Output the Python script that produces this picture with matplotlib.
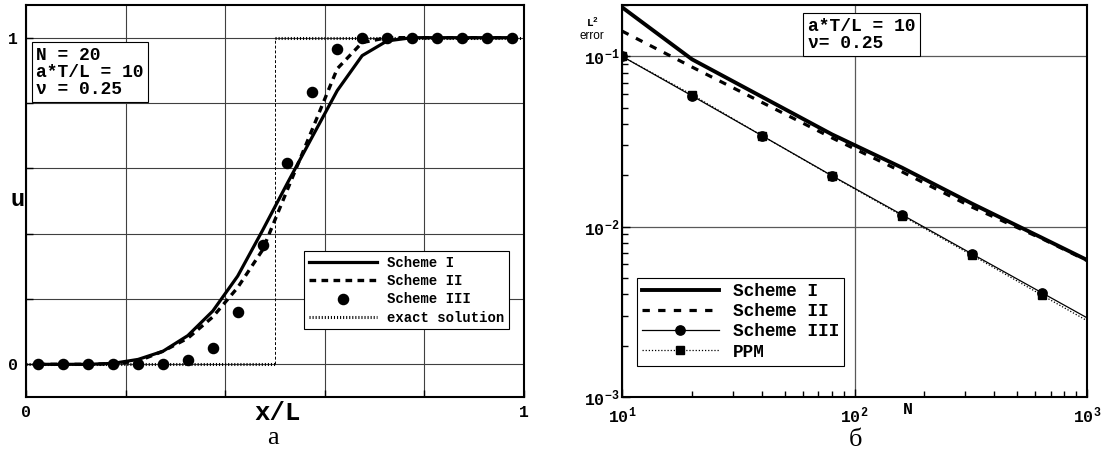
import matplotlib
matplotlib.use('Agg')
import matplotlib.pyplot as plt
from matplotlib.ticker import NullFormatter

plt.rcParams['font.family'] = ['Liberation Mono', 'DejaVu Sans']
plt.rcParams['font.weight'] = 'bold'
plt.rcParams['mathtext.fontset'] = 'custom'
plt.rcParams['mathtext.rm'] = 'Liberation Mono:bold'
plt.rcParams['mathtext.bf'] = 'Liberation Mono:bold'
plt.rcParams['mathtext.it'] = 'Liberation Mono:bold'
plt.rcParams['axes.linewidth'] = 1.5

# (a) profile after a*T/L = 10, N = 20 cells
x = [0.025, 0.075, 0.125, 0.175, 0.225, 0.275, 0.325, 0.375, 0.425, 0.475,
     0.525, 0.575, 0.625, 0.675, 0.725, 0.775, 0.825, 0.875, 0.925, 0.975]
u1 = [0, 0, 0, 0.003, 0.015, 0.04, 0.088, 0.163, 0.27, 0.41,
      0.555, 0.697, 0.838, 0.945, 0.99, 1, 1, 1, 1, 1]
u2 = [0, 0, 0, 0.002, 0.01, 0.04, 0.08, 0.145, 0.235, 0.35,
      0.535, 0.72, 0.905, 0.985, 1, 1, 1, 1, 1, 1]
u3 = [0, 0, 0, 0, 0, 0.002, 0.012, 0.049, 0.16, 0.366,
      0.616, 0.835, 0.966, 0.998, 1, 1, 1, 1, 1, 1]
x_exact = [0.0, 0.5, 0.5, 1.0]
u_exact = [0, 0, 1, 1]

# (б) L2 error vs N
N = [10, 20, 40, 80, 160, 320, 640, 1280]
err1 = [0.194, 0.096, 0.0578, 0.0348, 0.0222, 0.01365, 0.0086, 0.0054]
err2 = [0.1406, 0.0865, 0.0536, 0.0332, 0.021, 0.01303, 0.0085, 0.00537]
err3 = [0.1, 0.0586, 0.0342, 0.0199, 0.01175, 0.00692, 0.00409, 0.00242]
err_ppm = [0.1, 0.0595, 0.0342, 0.0198, 0.0116, 0.0068, 0.00396, 0.00232]

W, H = 1109, 453
fig = plt.figure(figsize=(W / 100, H / 100), dpi=100)
ax1 = fig.add_axes([26 / W, 56 / H, 498 / W, 392 / H])
ax2 = fig.add_axes([622 / W, 56 / H, 465 / W, 392 / H])

# ---- linkes Bild ----
comb = dict(color='k', lw=2.2, dashes=(0.35, 0.65))
le, = ax1.plot(x_exact[:2], u_exact[:2], label='exact solution', **comb)
ax1.plot(x_exact[2:], u_exact[2:], **comb)
ax1.plot(x_exact[1:3], u_exact[1:3], color='k', lw=0.7, dashes=(3, 2))
l1, = ax1.plot(x, u1, 'k-', lw=2.3, label='Scheme I')
l2, = ax1.plot(x, u2, color='k', lw=2.4, dashes=(2, 1.6), label='Scheme II')
l3, = ax1.plot(x, u3, 'ko', ms=7.3, ls='none', label='Scheme III')

ax1.set_xlim(0, 1)
ax1.set_ylim(-0.1, 1.1)
ax1.set_xticks([0, 0.2, 0.4, 0.6, 0.8, 1])
ax1.set_xticklabels(['0', '', '', '', '', '1'])
ax1.set_yticks([0, 0.2, 0.4, 0.6, 0.8, 1])
ax1.set_yticklabels(['0', '', '', '', '', '1'])
ax1.grid(True, color='0.25', lw=0.8)
ax1.tick_params(direction='in', length=5, width=1, labelsize=12, pad=6)

leg1 = ax1.legend(handles=[l1, l2, l3, le], loc='upper right',
                  bbox_to_anchor=(0.970, 0.372), borderaxespad=0,
                  prop={'family': 'Liberation Mono', 'weight': 'bold', 'size': 10},
                  handlelength=4.9, handletextpad=0.7, labelspacing=0.3,
                  borderpad=0.35, fancybox=False, framealpha=1, edgecolor='k')
leg1.get_frame().set_linewidth(0.8)

ax1.text(0.021, 0.894, 'N = 20\na*T/L = 10\nν = 0.25', transform=ax1.transAxes,
         ha='left', va='top', size=13, linespacing=1.0,
         bbox=dict(boxstyle='square,pad=0.25', fc='white', ec='k', lw=0.8))
ax1.text(-0.016, 0.503, 'u', transform=ax1.transAxes, ha='center', va='center', size=17)
ax1.text(0.506, -0.041, 'x/L', transform=ax1.transAxes, ha='center', va='center', size=18.5)

# ---- rechtes Bild ----
ax2.set_xscale('log')
ax2.set_yscale('log')
r1, = ax2.plot(N, err1, 'k-', lw=2.8, label='Scheme I')
r2, = ax2.plot(N, err2, color='k', lw=2.3, dashes=(2.3, 2.6), label='Scheme II')
r4, = ax2.plot(N, err_ppm, color='k', lw=0.9, dashes=(1, 1.5), marker='s', ms=5.8, label='PPM')
r3, = ax2.plot(N, err3, 'k-', lw=0.9, marker='o', ms=6.7, label='Scheme III')

ax2.set_xlim(10, 1000)
ax2.set_ylim(1e-3, 0.2)
ax2.set_xticks([10, 100, 1000])
ax2.set_xticklabels(['$\\mathrm{10^{1}}$', '$\\mathrm{10^{2}}$', '$\\mathrm{10^{3}}$'])
ax2.set_yticks([1e-3, 1e-2, 1e-1])
ax2.set_yticklabels(['$\\mathrm{10^{-3}}$', '$\\mathrm{10^{-2}}$', '$\\mathrm{10^{-1}}$'])
ax2.xaxis.set_minor_formatter(NullFormatter())
ax2.yaxis.set_minor_formatter(NullFormatter())
ax2.grid(True, which='major', color='0.35', lw=0.9)
ax2.tick_params(which='both', direction='in', top=False, right=False, labelsize=12)
ax2.tick_params(which='major', length=6, width=1)
ax2.tick_params(which='minor', length=4, width=1)
ax2.tick_params(axis='y', pad=1.5)
ax2.tick_params(axis='x', pad=6)

leg2 = ax2.legend(handles=[r1, r2, r3, r4], loc='lower left',
                  bbox_to_anchor=(0.032, 0.079), borderaxespad=0,
                  prop={'family': 'Liberation Mono', 'weight': 'bold', 'size': 12.8},
                  handlelength=4.3, handletextpad=0.8, labelspacing=0.18,
                  borderpad=0.3, fancybox=False, framealpha=1, edgecolor='k')
leg2.get_frame().set_linewidth(0.8)

ax2.text(0.399, 0.968, 'a*T/L = 10\nν= 0.25', transform=ax2.transAxes,
         ha='left', va='top', size=13, linespacing=1.0,
         bbox=dict(boxstyle='square,pad=0.25', fc='white', ec='k', lw=0.8))

fig.text(592 / W, 1 - 22 / H, '$\\mathrm{L^{2}}$', ha='center', va='center', size=8)
fig.text(592 / W, 1 - 36 / H, 'error', ha='center', va='center', size=8.5,
         family='Liberation Sans', weight='normal')
fig.text(908 / W, 1 - 410 / H, 'N', ha='center', va='center', size=12)

# Unterschriften
fig.text(273 / W, 1 - 438 / H, 'а', ha='center', va='center', size=19,
         family='Liberation Serif', weight='normal')
fig.text(855 / W, 1 - 440 / H, 'б', ha='center', va='center', size=19,
         family='Liberation Serif', weight='normal')

plt.savefig('out.png', dpi=100)
